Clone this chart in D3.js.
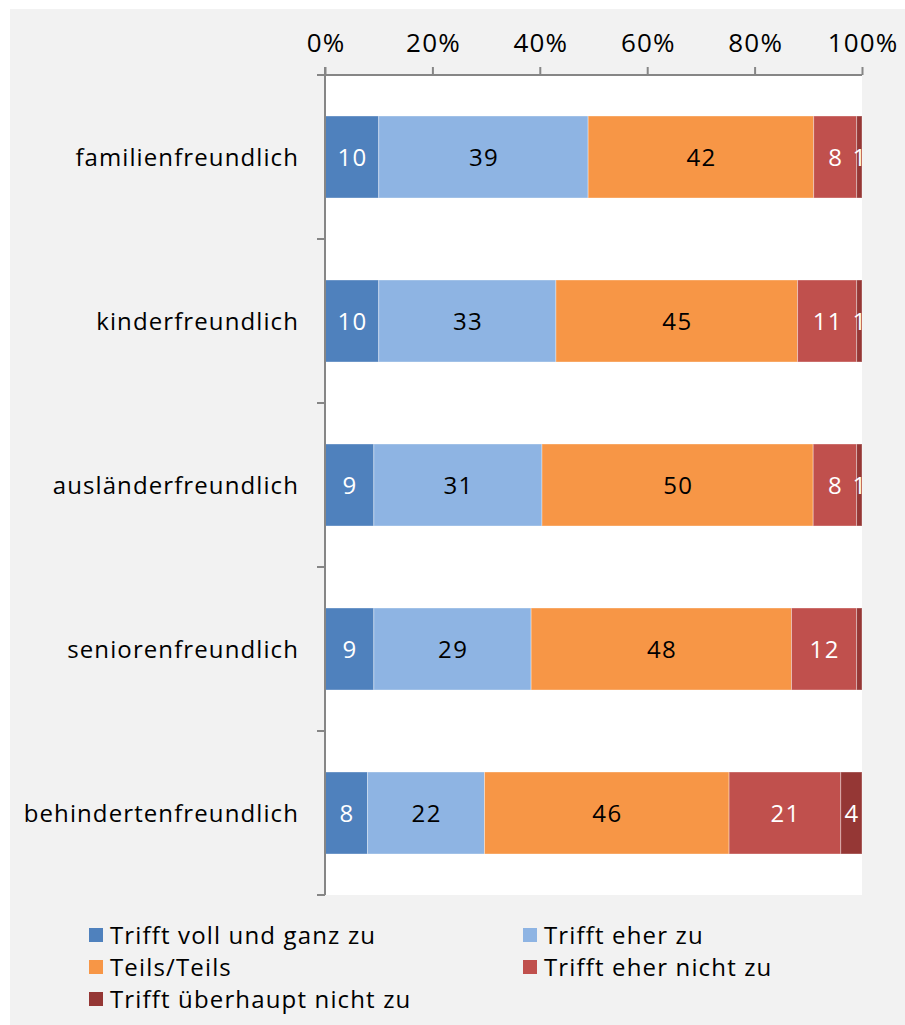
<!DOCTYPE html>
<html>
<head>
<meta charset="utf-8">
<script src="https://cdn.jsdelivr.net/npm/d3@7"></script>
<style>
  html, body { margin: 0; padding: 0; background: #ffffff; }
  svg { display: block; }
  text { font-family: "Open Sans", "DejaVu Sans", sans-serif; }
</style>
</head>
<body>
<svg id="chart" width="905" height="1025"></svg>
<script>
// Survey items (rows, top to bottom)
const categories = [
  "familienfreundlich",
  "kinderfreundlich",
  "ausländerfreundlich",
  "seniorenfreundlich",
  "behindertenfreundlich"
];

// Answer scale (stack order, left to right)
const series = [
  "Trifft voll und ganz zu",
  "Trifft eher zu",
  "Teils/Teils",
  "Trifft eher nicht zu",
  "Trifft überhaupt nicht zu"
];

// Percent values per answer, one entry per row
const voll      = [10, 10,  9,  9,  8];
const eher      = [39, 33, 31, 29, 22];
const teils     = [42, 45, 50, 48, 46];
const eherNicht = [ 8, 11,  8, 12, 21];
const garNicht  = [ 1,  1,  1,  1,  4];

// Whether a value label is printed on the segment
const showLabel = [
  [true, true, true, true, true],
  [true, true, true, true, true],
  [true, true, true, true, true],
  [true, true, true, true, false],
  [true, true, true, true, true]
];

const tickValues = [0, 0.2, 0.4, 0.6, 0.8, 1];

const colors = ["#4f81bd", "#8eb4e3", "#f79646", "#c0504d", "#953735"];
const labelColors = ["#ffffff", "#000000", "#000000", "#ffffff", "#ffffff"];

const valueArrays = [voll, eher, teils, eherNicht, garNicht];

const rows = categories.map((c, i) => {
  const r = { category: c, index: i };
  series.forEach((s, k) => { r[s] = valueArrays[k][i]; });
  return r;
});

const svg = d3.select("#chart");

// chart background panel
svg.append("rect")
  .attr("x", 10).attr("y", 9)
  .attr("width", 895).attr("height", 1016)
  .attr("fill", "#f2f2f2");

const plot = { left: 325, right: 862, top: 75, bottom: 895 };

svg.append("rect")
  .attr("x", plot.left).attr("y", plot.top)
  .attr("width", plot.right - plot.left)
  .attr("height", plot.bottom - plot.top)
  .attr("fill", "#ffffff");

const x = d3.scaleLinear().domain([0, 1]).range([plot.left, plot.right]);
const y = d3.scaleBand().domain(categories).range([plot.top, plot.bottom])
  .paddingInner(0.5).paddingOuter(0.25);

const stack = d3.stack().keys(series).offset(d3.stackOffsetExpand);
const stacked = stack(rows);

const layers = svg.append("g").selectAll("g")
  .data(stacked)
  .join("g")
  .attr("fill", (d, k) => colors[k]);

layers.selectAll("rect")
  .data(d => d)
  .join("rect")
  .attr("x", d => x(d[0]))
  .attr("y", d => y(d.data.category))
  .attr("width", d => x(d[1]) - x(d[0]))
  .attr("height", y.bandwidth())
  .attr("stroke", "rgba(255,255,255,0.35)")
  .attr("stroke-width", 1);

// value labels
stacked.forEach((layer, k) => {
  svg.append("g").selectAll("text")
    .data(layer.filter(d => showLabel[d.data.index][k]))
    .join("text")
    .attr("x", d => (x(d[0]) + x(d[1])) / 2 + 0.7)
    .attr("y", d => y(d.data.category) + y.bandwidth() / 2)
    .attr("dy", "0.36em")
    .attr("text-anchor", "middle")
    .attr("font-size", 24)
    .attr("letter-spacing", 1.4)
    .attr("fill", labelColors[k])
    .text(d => d.data[series[k]]);
});

// top percent axis
const xAxis = svg.append("g")
  .attr("transform", `translate(0,${plot.top})`)
  .call(d3.axisTop(x).tickValues(tickValues)
    .tickFormat(d3.format(".0%")).tickSize(8).tickPadding(15));
xAxis.select(".domain").attr("stroke", "#868686").attr("stroke-width", 2)
  .attr("d", `M${plot.left - 8},0H${plot.right}`);
xAxis.selectAll(".tick line").attr("stroke", "#868686").attr("stroke-width", 2);
xAxis.selectAll(".tick text")
  .attr("font-size", 26).attr("letter-spacing", 1.2).attr("fill", "#000")
  .attr("dx", "0.6")
  .attr("font-family", "'Open Sans', 'DejaVu Sans', sans-serif");

// left category axis with boundary ticks
const yAxis = svg.append("g");
yAxis.append("line")
  .attr("x1", plot.left).attr("x2", plot.left)
  .attr("y1", plot.top - 8).attr("y2", plot.bottom)
  .attr("stroke", "#868686").attr("stroke-width", 2);
const boundaries = d3.range(categories.length + 1)
  .map(i => plot.top + i * y.step());
yAxis.selectAll("line.b")
  .data(boundaries.slice(1))
  .join("line")
  .attr("class", "b")
  .attr("x1", plot.left - 8).attr("x2", plot.left)
  .attr("y1", d => d).attr("y2", d => d)
  .attr("stroke", "#868686").attr("stroke-width", 2);

svg.append("g").selectAll("text")
  .data(categories)
  .join("text")
  .attr("x", 299)
  .attr("y", d => y(d) + y.bandwidth() / 2)
  .attr("dy", "0.36em")
  .attr("text-anchor", "end")
  .attr("font-size", 24)
  .attr("letter-spacing", 1.1)
  .attr("fill", "#000")
  .text(d => d);

// legend, two columns
const legendPos = [
  { x: 89, y: 935 }, { x: 523, y: 935 },
  { x: 89, y: 967 }, { x: 523, y: 967 },
  { x: 89, y: 999 }
];
const legend = svg.append("g").selectAll("g")
  .data(series)
  .join("g")
  .attr("transform", (d, k) => `translate(${legendPos[k].x},${legendPos[k].y})`);
legend.append("rect")
  .attr("x", 0).attr("y", -7).attr("width", 14).attr("height", 14)
  .attr("fill", (d, k) => colors[k]);
legend.append("text")
  .attr("x", 21).attr("dy", "0.36em")
  .attr("font-size", 24).attr("letter-spacing", 1.15).attr("fill", "#000")
  .text(d => d);
</script>
</body>
</html>
